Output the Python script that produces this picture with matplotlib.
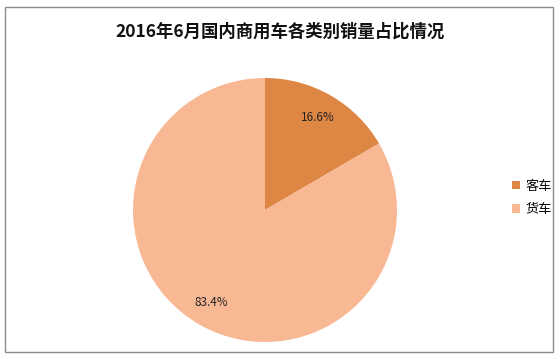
import matplotlib
matplotlib.use("Agg")
import matplotlib.pyplot as plt
from matplotlib.patches import Rectangle

plt.rcParams['font.family'] = ['Noto Sans CJK SC', 'DejaVu Sans']

title = "2016年6月国内商用车各类别销量占比情况"
categories = ["客车", "货车"]
shares = [16.6, 83.4]
colors = ["#DE8744", "#F8B894"]

W, H = 560, 359
fig = plt.figure(figsize=(W / 100, H / 100), dpi=100)
fig.patch.set_facecolor("white")

# outer border
fig.patches.append(Rectangle((5 / W, 1 - 352 / H), 548 / W, 345 / H,
                             transform=fig.transFigure, fill=False,
                             edgecolor="#8C8C8C", linewidth=1.0))

cx, cy, r = 265, 210, 132
ax = fig.add_axes([(cx - r) / W, (H - cy - r) / H, 2 * r / W, 2 * r / H])
wedges, texts, autotexts = ax.pie(
    shares, colors=colors, startangle=90, counterclock=False,
    autopct="%.1f%%", pctdistance=0.81,
    wedgeprops=dict(linewidth=0),
    textprops=dict(fontsize=8.5, color="#222222"))
ax.set_xlim(-1, 1)
ax.set_ylim(-1, 1)
ax.set_aspect("equal")
ax.axis("off")

fig.text(280 / W, 1 - 32 / H, title, ha="center", va="center",
         fontsize=12.5, fontweight="bold", color="#111111")

fig.legend(wedges, categories, loc="center left",
           bbox_to_anchor=(500 / W, 1 - 198 / H), frameon=False,
           fontsize=9.5, handlelength=0.6, handleheight=0.6,
           handletextpad=0.4, labelspacing=0.8)

fig.savefig("out.png", dpi=100)
